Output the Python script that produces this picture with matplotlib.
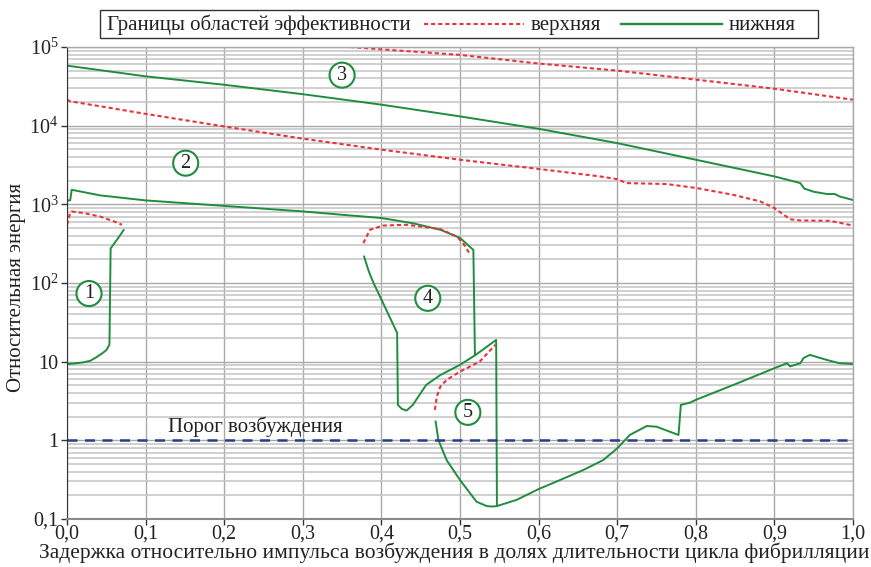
import matplotlib
matplotlib.use("Agg")
import matplotlib.pyplot as plt
from matplotlib.lines import Line2D
from matplotlib.patches import Rectangle
from matplotlib.ticker import FixedLocator, NullFormatter

plt.rcParams['font.family'] = ['Liberation Serif', 'DejaVu Serif']
plt.rcParams['mathtext.fontset'] = 'custom'
plt.rcParams['mathtext.rm'] = 'Liberation Serif'
plt.rcParams['mathtext.it'] = 'Liberation Serif'

# ---------------- data ----------------
# region 1
r1_low_x = [0.000, 0.010, 0.021, 0.030, 0.038, 0.045, 0.050, 0.054, 0.0555, 0.064, 0.072]
r1_low_y = [9.3, 9.5, 9.8, 10.3, 11.5, 12.8, 14.0, 16.5, 275, 360, 470]
r1_up_x = [0.000, 0.004, 0.006, 0.021, 0.042, 0.061, 0.070]
r1_up_y = [550, 775, 810, 775, 700, 600, 550]

# region 2
r2_low_x = [0.000, 0.004, 0.006, 0.042, 0.100, 0.200, 0.300, 0.347, 0.400, 0.440, 0.475, 0.500, 0.517, 0.519]
r2_low_y = [1122, 1122, 1531, 1300, 1122, 955, 813, 741, 670, 575, 475, 375, 263, 12.2]
r2_up_x = [0.000, 0.004, 0.100, 0.200, 0.300, 0.400, 0.500, 0.600, 0.678, 0.700, 0.712, 0.763,
           0.801, 0.848, 0.882, 0.900, 0.920, 0.933, 0.971, 1.000]
r2_up_y = [21380, 20420, 14125, 9772, 6839, 4955, 3690, 2818, 2265, 2089, 1862, 1811,
           1611, 1318, 1089, 897, 646, 624, 617, 537]

# region 3
r3_low_x = [0.000, 0.100, 0.200, 0.300, 0.400, 0.500, 0.600, 0.700, 0.800, 0.900, 0.933,
            0.938, 0.950, 0.967, 0.977, 0.983, 1.000]
r3_low_y = [57940, 42360, 33110, 25120, 18490, 13120, 9120, 6000, 3690, 2265, 1862,
            1585, 1445, 1352, 1352, 1259, 1135]
r3_up_x = [0.360, 0.400, 0.500, 0.600, 0.700, 0.800, 0.900, 1.000]
r3_up_y = [100000, 93300, 79400, 61660, 50120, 38500, 29500, 21380]

# region 4 / tail
r4_low_x = [0.378, 0.384, 0.390, 0.402, 0.420, 0.421, 0.426, 0.432, 0.440, 0.457, 0.475, 0.500,
            0.520, 0.546, 0.547, 0.572, 0.600, 0.623, 0.657, 0.682, 0.700, 0.716, 0.7375,
            0.750, 0.778, 0.781, 0.793, 0.800, 0.848, 0.900, 0.916, 0.920, 0.933, 0.937,
            0.945, 0.967, 0.983, 1.000]
r4_low_y = [217, 140, 100, 56, 23.2, 2.82, 2.51, 2.39, 2.82, 5.07, 6.76, 9.12,
            12.2, 18.9, 0.146, 0.175, 0.24, 0.30, 0.42, 0.56, 0.79, 1.17, 1.52,
            1.49, 1.17, 2.82, 3.02, 3.27, 5.07, 8.26, 9.55, 8.71, 9.55, 11.1,
            12.2, 10.5, 9.55, 9.33]
r4_up_x = [0.377, 0.3855, 0.402, 0.432, 0.475, 0.496, 0.505, 0.513]
r4_up_y = [321, 475, 537, 550, 485, 389, 309, 229]

# region 5
r5_low_x = [0.469, 0.4725, 0.483, 0.500, 0.521, 0.534, 0.541, 0.547]
r5_low_y = [1.73, 1.01, 0.56, 0.313, 0.166, 0.146, 0.144, 0.146]
r5_up_x = [0.468, 0.4705, 0.475, 0.483, 0.500, 0.525, 0.545]
r5_up_y = [2.44, 3.6, 4.82, 5.86, 7.48, 10.0, 16.4]

threshold = 1.0

region_labels = ['1', '2', '3', '4', '5']
region_x = [0.028, 0.151, 0.350, 0.459, 0.510]
region_y = [79, 3590, 47200, 68.7, 2.44]

x_ticks = [0.0, 0.1, 0.2, 0.3, 0.4, 0.5, 0.6, 0.7, 0.8, 0.9, 1.0]
x_tick_labels = ['0,0', '0,1', '0,2', '0,3', '0,4', '0,5', '0,6', '0,7', '0,8', '0,9', '1,0']
y_ticks = [0.1, 1, 10, 100, 1000, 10000, 100000]
y_tick_labels = ['0,1', '1', '10', r'$10^2$', r'$10^3$', r'$10^4$', r'$10^5$']

GREEN = '#1f8c3e'
RED = '#e8333a'
NAVY = '#2c3b8c'
TXT = '#222222'

# ---------------- figure ----------------
fig = plt.figure(figsize=(8.71, 5.67), dpi=100)
ax = fig.add_axes([67/871, 48/567, 786/871, 472/567])
ax.set_yscale('log')
ax.set_xlim(0, 1)
ax.set_ylim(0.1, 1e5)

# grid
ax.xaxis.set_major_locator(FixedLocator(x_ticks))
ax.yaxis.set_major_locator(FixedLocator(y_ticks))
minor = [m * 10.0**e for e in range(-1, 5) for m in range(2, 10)]
ax.yaxis.set_minor_locator(FixedLocator(minor))
ax.yaxis.set_minor_formatter(NullFormatter())
ax.grid(True, which='major', axis='x', color='#a9a9a9', lw=1.0)
ax.grid(True, which='major', axis='y', color='#a9a9a9', lw=1.0)
ax.grid(True, which='minor', axis='y', color='#c4c4c4', lw=1.1)
ax.set_axisbelow(True)
ax.tick_params(axis='y', which='minor', length=0)
ax.tick_params(axis='both', which='major', direction='out', length=4, width=1,
               color='#333333', labelsize=14.5, labelcolor=TXT)
ax.tick_params(axis='x', which='major', pad=0)
ax.tick_params(axis='y', which='major', pad=2)

ax.set_xticklabels(x_tick_labels)
ax.set_yticklabels(y_tick_labels)

for s in ['top', 'right']:
    ax.spines[s].set_color('#a9a9a9')
    ax.spines[s].set_linewidth(1.0)
ax.spines['left'].set_color('#333333')
ax.spines['bottom'].set_color('#8a8a8a')
ax.spines['bottom'].set_linewidth(1.5)

lw_g = 1.4
lw_r = 1.5
dots = (0, (2, 1.4))

ax.plot(r1_low_x, r1_low_y, color=GREEN, lw=lw_g)
ax.plot(r1_up_x, r1_up_y, color=RED, lw=lw_r, ls=dots)
ax.plot(r2_low_x, r2_low_y, color=GREEN, lw=lw_g)
ax.plot(r2_up_x, r2_up_y, color=RED, lw=lw_r, ls=dots)
ax.plot(r3_low_x, r3_low_y, color=GREEN, lw=lw_g)
ax.plot(r3_up_x, r3_up_y, color=RED, lw=lw_r, ls=dots)
ax.plot(r4_low_x, r4_low_y, color=GREEN, lw=lw_g)
ax.plot(r4_up_x, r4_up_y, color=RED, lw=lw_r, ls=dots)
ax.plot(r5_low_x, r5_low_y, color=GREEN, lw=lw_g)
ax.plot(r5_up_x, r5_up_y, color=RED, lw=lw_r, ls=dots)

ax.axhline(threshold, color=NAVY, lw=1.8, ls=(0, (4, 3)))
ax.text(0.239, 1.28, 'Порог возбуждения', fontsize=15, ha='center', va='baseline',
        color=TXT)

for lab, xx, yy in zip(region_labels, region_x, region_y):
    ax.text(xx, yy, lab, fontsize=14.5, ha='center', va='center_baseline', color=TXT,
            bbox=dict(boxstyle='circle,pad=0.15', fc='white', ec=GREEN, lw=1.5))

xl = ax.set_xlabel('Задержка относительно импульса возбуждения в долях длительности цикла фибрилляции',
                   fontsize=15.5, color=TXT)
ax.xaxis.set_label_coords((454 - 67) / 786, (519 - 553) / 472)
xl.set_va('center')
yl = ax.set_ylabel('Относительная энергия', fontsize=15, color=TXT)
ax.yaxis.set_label_coords((16 - 67) / 786, 0.49)
yl.set_va('center')

# legend box (figure coords in pixels)
H = 567.0
W = 871.0
fig.patches.append(Rectangle((100/W, (H-38)/H), 718/W, 28/H, transform=fig.transFigure,
                             fc='white', ec='#333333', lw=1.0))
base = (H-30)/H
mid = (H-24)/H
fig.text(107/W, base, 'Границы областей эффективности', fontsize=15, va='baseline', ha='left',
         color=TXT)
fig.lines.append(Line2D([424/W, 524/W], [mid, mid], transform=fig.transFigure, color=RED,
                        lw=lw_r, ls=dots))
fig.text(531/W, base, 'верхняя', fontsize=15, va='baseline', ha='left', color=TXT)
fig.lines.append(Line2D([621/W, 722/W], [mid, mid], transform=fig.transFigure, color=GREEN,
                        lw=lw_g + 0.3))
fig.text(729/W, base, 'нижняя', fontsize=15, va='baseline', ha='left', color=TXT)

fig.savefig('out.png', dpi=100)
